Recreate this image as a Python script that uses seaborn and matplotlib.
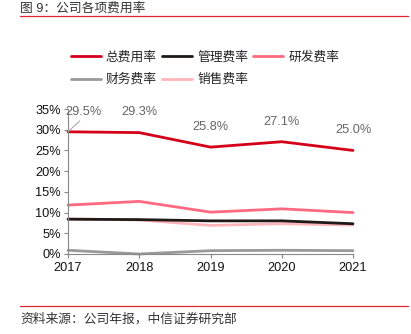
import matplotlib
matplotlib.use("Agg")
import matplotlib.pyplot as plt
import seaborn as sns
import pandas as pd
from matplotlib.lines import Line2D
from matplotlib.ticker import PercentFormatter

sns.set_style("white")
plt.rcParams['font.family'] = ['Liberation Sans', 'Noto Sans CJK SC', 'DejaVu Sans']

years = [2017, 2018, 2019, 2020, 2021]
total_rate = [29.5, 29.3, 25.8, 27.1, 25.0]
admin_rate = [8.4, 8.3, 8.0, 8.0, 7.3]
rd_rate = [11.8, 12.7, 10.1, 10.9, 10.0]
fin_rate = [0.9, 0.0, 0.8, 0.9, 0.8]
sales_rate = [8.5, 8.2, 6.9, 7.3, 7.0]

series_names = ['总费用率', '管理费率', '研发费率', '财务费率', '销售费率']
series_values = [total_rate, admin_rate, rd_rate, fin_rate, sales_rate]
colors = ['#D40019', '#1F1A17', '#FF6A80', '#999999', '#FFB6BA']
total_labels = ['29.5%', '29.3%', '25.8%', '27.1%', '25.0%']

W, H = 411, 334
fig = plt.figure(figsize=(W / 100, H / 100), dpi=100)
ax = fig.add_axes([68 / W, 1 - 254 / H, (353 - 68) / W, (254 - 109) / H])

df = pd.DataFrame({'year': years * 5,
                   'value': sum(series_values, []),
                   'series': [n for n in series_names for _ in years]})

draw_order = ['财务费率', '销售费率', '管理费率', '研发费率', '总费用率']
cmap = dict(zip(series_names, colors))
for name in draw_order:
    sub = df[df['series'] == name]
    sns.lineplot(data=sub, x='year', y='value', ax=ax, color=cmap[name],
                 linewidth=2.0, label=name, clip_on=False, legend=False)

ax.set_xlim(2017, 2021)
ax.set_ylim(0, 35)
ax.set_xticks(years)
ax.set_yticks(range(0, 36, 5))
ax.yaxis.set_major_formatter(PercentFormatter(decimals=0))
ax.set_xlabel('')
ax.set_ylabel('')
for s in ['top', 'right']:
    ax.spines[s].set_visible(False)
for s in ['left', 'bottom']:
    ax.spines[s].set_color('#888888')
    ax.spines[s].set_linewidth(0.8)
ax.tick_params(axis='both', labelsize=9.2, colors='#888888', labelcolor='#111111',
               length=3, width=0.8, direction='out')
ax.tick_params(axis='x', pad=3, bottom=True)
ax.tick_params(axis='y', pad=2, left=True)

for i, (x, v, t) in enumerate(zip(years, total_rate, total_labels)):
    if i == 0:
        ax.annotate(t, xy=(x, v), xytext=(11, 14.5), textcoords='offset points',
                    ha='center', va='center', fontsize=9.2, color='#666666',
                    arrowprops=dict(arrowstyle='-', color='#AAAAAA', lw=0.8,
                                    shrinkA=0, shrinkB=0, relpos=(0.5, 0.0)))
    else:
        ax.annotate(t, xy=(x, v), xytext=(0, 14.5), textcoords='offset points',
                    ha='center', va='center', fontsize=9.2, color='#666666')

handles = {n: Line2D([0], [0], color=cmap[n], lw=2.0) for n in series_names}
leg_order = ['总费用率', '财务费率', '管理费率', '销售费率', '研发费率']
fig.legend([handles[n] for n in leg_order], leg_order, ncol=3, loc='center',
           bbox_to_anchor=(205 / W, 1 - 68.5 / H), frameon=False, fontsize=9.2,
           handlelength=2.35, handletextpad=0.4, columnspacing=0.4,
           labelspacing=0.8, borderpad=0, borderaxespad=0)

fig.text(20 / W, 1 - 8 / H, '图 9：公司各项费用率', fontsize=9.2, color='#333333',
         ha='left', va='center')
fig.add_artist(Line2D([20 / W, 408 / W], [1 - 16 / H, 1 - 16 / H], color='#E0262E', lw=0.9))
fig.add_artist(Line2D([20 / W, 408 / W], [1 - 306 / H, 1 - 306 / H], color='#E0262E', lw=0.9))
fig.text(20 / W, 1 - 319 / H, '资料来源：公司年报，中信证券研究部', fontsize=9.2,
         color='#333333', ha='left', va='center')

fig.savefig('out.png', dpi=100)
